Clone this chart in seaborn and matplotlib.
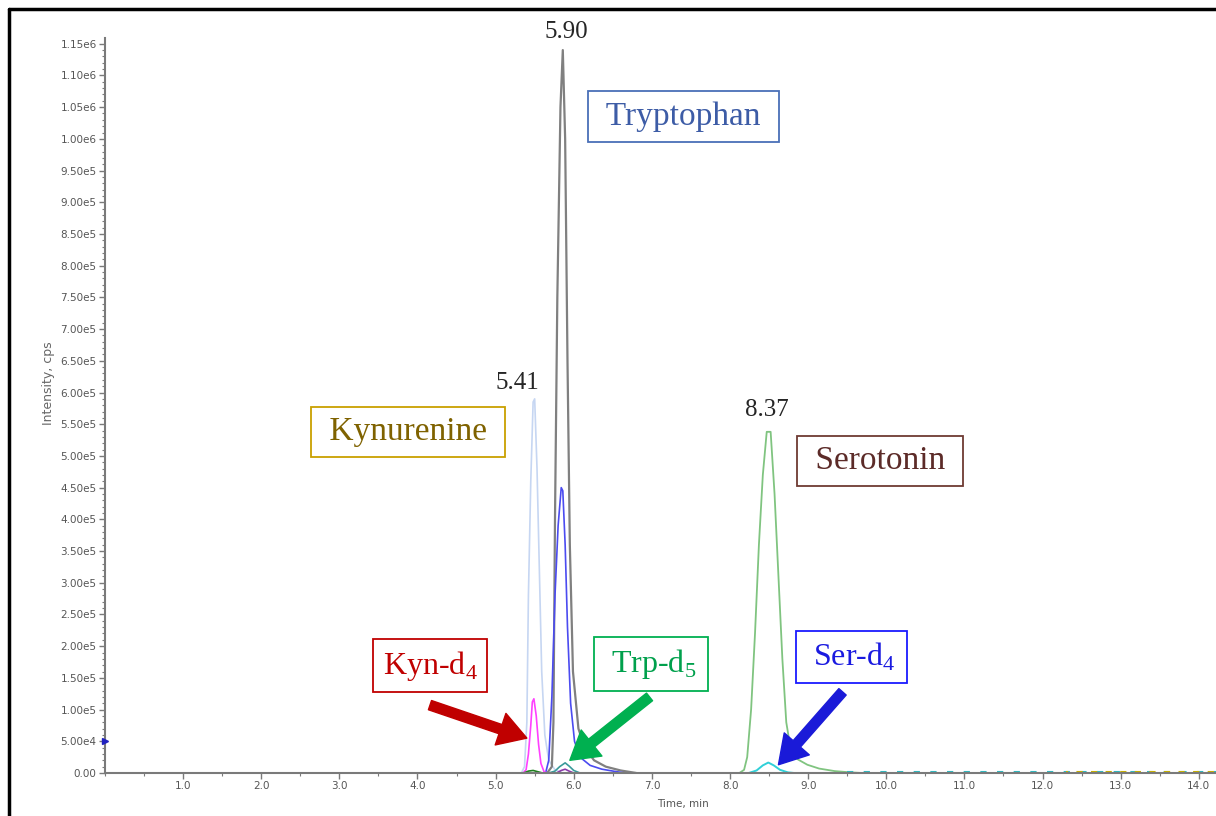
import matplotlib
matplotlib.use("Agg")
import matplotlib.pyplot as plt
from matplotlib.ticker import MultipleLocator, FixedLocator, FixedFormatter
from matplotlib.lines import Line2D
import pandas as pd
import seaborn as sns

# retention time (min) and intensity (cps)
trp_time = [5.66, 5.72, 5.74, 5.76, 5.79, 5.83, 5.86, 5.89, 5.92, 5.95, 5.99, 6.06, 6.14, 6.26, 6.41, 6.60, 6.80]
trp_int = [0, 1e4, 8e4, 4.0e5, 7.5e5, 1.05e6, 1.14e6, 1.0e6, 6.5e5, 3.6e5, 1.6e5, 7e4, 4e4, 2e4, 1e4, 4e3, 0]

kyn_time = [5.33, 5.37, 5.40, 5.42, 5.45, 5.48, 5.50, 5.53, 5.56, 5.59, 5.63, 5.68, 5.76, 5.86]
kyn_int = [0, 1e4, 8e4, 2.8e5, 4.6e5, 5.85e5, 5.9e5, 4.8e5, 3.2e5, 1.6e5, 6e4, 2e4, 5e3, 0]

trp2_time = [5.64, 5.68, 5.72, 5.76, 5.80, 5.84, 5.86, 5.89, 5.92, 5.96, 6.01, 6.08, 6.21, 6.36, 6.55, 6.66]
trp2_int = [0, 2e4, 1.2e5, 2.8e5, 3.9e5, 4.5e5, 4.45e5, 3.6e5, 2.3e5, 1.1e5, 5e4, 2.5e4, 1.2e4, 6e3, 2e3, 0]

kynd4_time = [5.35, 5.39, 5.42, 5.45, 5.47, 5.49, 5.52, 5.55, 5.58, 5.62, 5.66]
kynd4_int = [0, 5e3, 3e4, 7.5e4, 1.12e5, 1.17e5, 9e4, 4.5e4, 1.5e4, 2e3, 0]

trpd5_time = [5.68, 5.76, 5.82, 5.89, 5.94, 6.00, 6.08]
trpd5_int = [0, 3e3, 1e4, 1.6e4, 1.1e4, 4e3, 0]

ser_time = [8.12, 8.18, 8.22, 8.27, 8.32, 8.37, 8.42, 8.47, 8.52, 8.57, 8.62, 8.67, 8.72, 8.78, 8.86, 8.99, 9.14, 9.34, 9.54, 9.69]
ser_int = [0, 5e3, 2.5e4, 1e5, 2.2e5, 3.6e5, 4.7e5, 5.38e5, 5.38e5, 4.4e5, 3.1e5, 1.8e5, 8e4, 3.5e4, 2.2e4, 1.3e4, 7e3, 3e3, 1e3, 0]

serd4_time = [8.24, 8.34, 8.42, 8.49, 8.56, 8.64, 8.74, 8.82]
serd4_int = [0, 4e3, 1.2e4, 1.65e4, 1.2e4, 5e3, 1e3, 0]

dkgreen_time = [5.36, 5.42, 5.48, 5.54, 5.60]
dkgreen_int = [0, 3e3, 4e3, 2e3, 0]

purple_time = [5.78, 5.84, 5.89, 5.94, 6.00]
purple_int = [0, 4e3, 6e3, 3e3, 0]

noise_cyan_time = [9.5, 14.25]
noise_cyan_int = [1500, 1500]
noise_olive_time = [12.3, 14.25]
noise_olive_int = [800, 800]

y_ticks = [0, 5e4, 1e5, 1.5e5, 2e5, 2.5e5, 3e5, 3.5e5, 4e5, 4.5e5, 5e5, 5.5e5,
           6e5, 6.5e5, 7e5, 7.5e5, 8e5, 8.5e5, 9e5, 9.5e5, 1e6, 1.05e6, 1.1e6, 1.15e6]
y_tick_labels = ["0.00", "5.00e4", "1.00e5", "1.50e5", "2.00e5", "2.50e5", "3.00e5", "3.50e5",
                 "4.00e5", "4.50e5", "5.00e5", "5.50e5", "6.00e5", "6.50e5", "7.00e5", "7.50e5",
                 "8.00e5", "8.50e5", "9.00e5", "9.50e5", "1.00e6", "1.05e6", "1.10e6", "1.15e6"]
x_ticks = [1, 2, 3, 4, 5, 6, 7, 8, 9, 10, 11, 12, 13, 14]
x_tick_labels = ["1.0", "2.0", "3.0", "4.0", "5.0", "6.0", "7.0", "8.0", "9.0",
                 "10.0", "11.0", "12.0", "13.0", "14.0"]

sns.set_style("ticks")
plt.rcParams["font.family"] = ["DejaVu Sans"]
plt.rcParams["mathtext.fontset"] = "custom"
plt.rcParams["mathtext.rm"] = "Liberation Serif"

fig = plt.figure(figsize=(12.16, 8.16), dpi=100)
ax = fig.add_axes([0.0863, 0.0527, 0.9137, 0.9007])

traces = [
    (kyn_time, kyn_int, "#c6d6f2", 1.2),
    (ser_time, ser_int, "#80c480", 1.3),
    (trp_time, trp_int, "#808080", 1.6),
    (trp2_time, trp2_int, "#4b4bf0", 1.2),
    (kynd4_time, kynd4_int, "#ff40ff", 1.2),
    (dkgreen_time, dkgreen_int, "#1f7f1f", 1.2),
    (purple_time, purple_int, "#8a3aa8", 1.2),
    (trpd5_time, trpd5_int, "#3a9a9a", 1.2),
    (serd4_time, serd4_int, "#30d0d8", 1.4),
]
for t, y, c, lw in traces:
    df = pd.DataFrame({"time": t, "intensity": y})
    sns.lineplot(data=df, x="time", y="intensity", color=c, linewidth=lw,
                 estimator=None, sort=False, ax=ax)

sns.lineplot(x=noise_cyan_time, y=noise_cyan_int, color="#30b8c0", linewidth=1.5,
             linestyle=(0, (3, 5)), ax=ax)
sns.lineplot(x=noise_olive_time, y=noise_olive_int, color="#c8b000", linewidth=1.5,
             linestyle=(2, (3, 4)), ax=ax)

ax.set_xlim(0, 14.22)
ax.set_ylim(0, 1.159e6)
ax.xaxis.set_major_locator(FixedLocator(x_ticks))
ax.xaxis.set_major_formatter(FixedFormatter(x_tick_labels))
ax.xaxis.set_minor_locator(MultipleLocator(0.5))
ax.yaxis.set_major_locator(FixedLocator(y_ticks))
ax.yaxis.set_major_formatter(FixedFormatter(y_tick_labels))
ax.yaxis.set_minor_locator(MultipleLocator(1e4))

sns.despine(ax=ax)
for side in ["left", "bottom"]:
    ax.spines[side].set_color("#7a7a7a")
    ax.spines[side].set_linewidth(1.5)
ax.tick_params(which="major", length=4, width=1, color="#7a7a7a",
               labelsize=7.5, labelcolor="#555555", pad=2)
ax.tick_params(which="minor", length=2, width=0.8, color="#7a7a7a")

ax.set_xlabel("Time, min", fontsize=7.5, color="#555555")
ax.xaxis.set_label_coords(0.52, -0.036)
ax.set_ylabel("Intensity, cps", fontsize=9, color="#666666")
ax.yaxis.set_label_coords(-0.045, 0.53)

# small marker on the y axis
ax.plot([0], [5e4], marker=">", color="#2020c0", markersize=5, clip_on=False, zorder=5)

serif = "Liberation Serif"
# retention time labels
ax.text(5.90, 1.169e6, "5.90", fontsize=18, family=serif, ha="center", va="center")
ax.text(5.28, 6.15e5, "5.41", fontsize=18, family=serif, ha="center", va="center")
ax.text(8.47, 5.73e5, "8.37", fontsize=18, family=serif, ha="center", va="center")

boxes = [
    (" Tryptophan ", 7.41, 1.035e6, "#3d5ca6", "#4a70b8", 24),
    (" Kynurenine ", 3.88, 5.38e5, "#7f6200", "#c9a000", 24),
    (" Serotonin ", 9.92, 4.92e5, "#5c2b28", "#6e3a33", 24),
    ("Kyn-d$_{\\rm 4}$", 4.16, 1.69e5, "#c00000", "#c00000", 23),
    (" Trp-d$_{\\rm 5}$ ", 6.99, 1.72e5, "#00a04c", "#00b050", 23),
    (" Ser-d$_{\\rm 4}$ ", 9.55, 1.83e5, "#1a1ae0", "#1a1aff", 23),
]
for label, x, y, tc, ec, fs in boxes:
    ax.text(x, y, label, fontsize=fs, family=serif, color=tc, ha="center", va="center",
            bbox=dict(boxstyle="square,pad=0.3", fc="white", ec=ec, lw=1.3))

arrows = [
    ((4.16, 1.07e5), (5.40, 5.5e4), "#c00000"),
    ((6.97, 1.2e5), (5.95, 2.0e4), "#00b050"),
    ((9.44, 1.28e5), (8.62, 1.3e4), "#1a1ad8"),
]
for tail, head, c in arrows:
    ax.annotate("", xy=head, xytext=tail,
                arrowprops=dict(arrowstyle="simple,head_length=1.0,head_width=1.2,tail_width=0.35",
                                mutation_scale=20, color=c, shrinkA=0, shrinkB=0))

# outer frame of the figure
fig.add_artist(Line2D([9 / 1216, 9 / 1216], [0, 1 - 9 / 816], color="black", lw=2.5,
                      transform=fig.transFigure))
fig.add_artist(Line2D([9 / 1216, 1], [1 - 9 / 816, 1 - 9 / 816], color="black", lw=2.5,
                      transform=fig.transFigure))

fig.savefig("out.png", dpi=100)
